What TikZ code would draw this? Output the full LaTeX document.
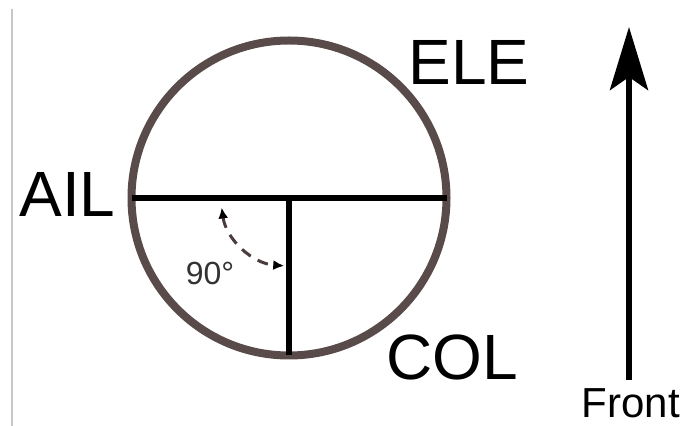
\documentclass[tikz,border=0pt]{standalone}
\usepackage{fontspec}
\setmainfont{Liberation Sans}
\usetikzlibrary{arrows.meta,positioning}
\definecolor{dialrim}{HTML}{5A4B4B}
\definecolor{arcgray}{HTML}{4A3C3C}
\tikzset{every picture/.style={line width=0.75pt}}
\tikzset{
  axislabel/.style={inner sep=0pt,anchor=base,font=\fontsize{64}{64}\selectfont},
  anglelabel/.style={inner sep=0pt,anchor=base,text=black!80,font=\fontsize{32}{32}\selectfont},
  anglemark/.style={arcgray,line width=3pt,dash pattern=on 11pt off 8pt,
    {Latex[length=11pt,width=10pt,black]}-{Latex[length=11pt,width=10pt,black]}},
  heading/.style={line width=6pt,-{Stealth[length=63pt,width=38pt,inset=13pt]}}
}

\begin{document}
\begin{tikzpicture}[x=1pt,y=1pt]
    \useasboundingbox (0,0) rectangle (689,426);
    % page edge
    \draw[black!22,line width=1.5pt] (12,0) -- (12,417);

    % dial
    \coordinate (O) at (289,228);
    \node[circle,draw=dialrim,line width=8pt,minimum size=315pt,inner sep=0pt,outer sep=0pt] (dial) at (O) {};
    \draw[line width=6pt] (dial.west) -- (dial.east);
    \draw[line width=6pt] (O) -- (dial.south);

    % right angle
    \draw[anglemark] ([shift={(188:68)}]O) arc[start angle=188,end angle=266,radius=68];
    \node[anglelabel] (ang) at (210,141) {90°};

    % axis names
    \node[axislabel] (ail) at (67.5,209) {AIL};
    \node[axislabel] (ele) at (469,341) {ELE};
    \node[axislabel] (col) at (452.5,46) {COL};

    % heading
    \coordinate (tail) at (629,46);
    \coordinate (tip) at (629,399);
    \draw[heading] (tail) -- (tip);
    \node[inner sep=0pt,anchor=base,font=\fontsize{42}{42}\selectfont] (front) at (631,8) {Front};
\end{tikzpicture}
\end{document}
